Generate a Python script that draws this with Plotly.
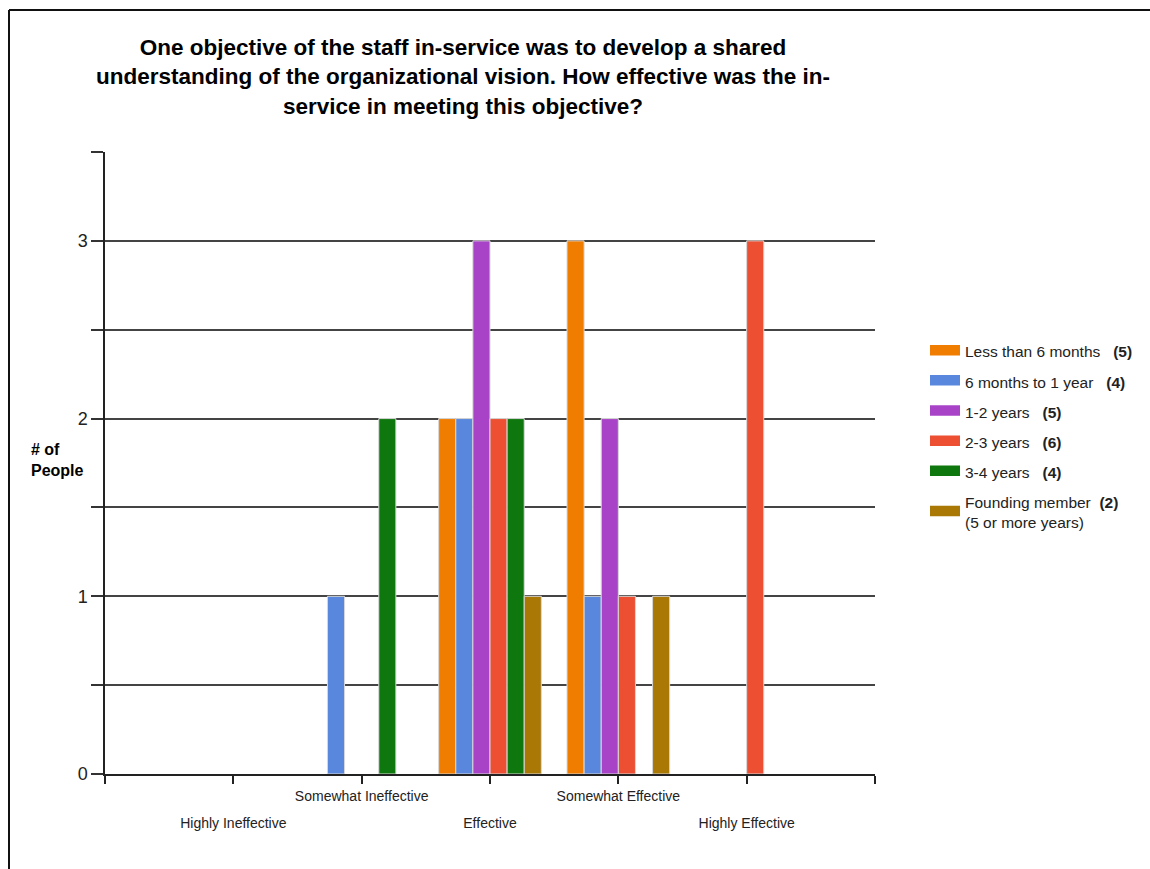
import plotly.graph_objects as go

# ---- data ----
categories = ["Highly Ineffective", "Somewhat Ineffective", "Effective",
              "Somewhat Effective", "Highly Effective"]
cat_pos = [1, 2, 3, 4, 5]
series_names = ["Less than 6 months", "6 months to 1 year", "1-2 years",
                "2-3 years", "3-4 years", "Founding member"]
series_counts = [5, 4, 5, 6, 4, 2]
less_6m = [0, 0, 2, 3, 0]
m6_to_1y = [0, 1, 2, 1, 0]
y1_2 = [0, 0, 3, 2, 0]
y2_3 = [0, 0, 2, 1, 3]
y3_4 = [0, 2, 2, 0, 0]
founding = [0, 0, 1, 1, 0]
series_values = [less_6m, m6_to_1y, y1_2, y2_3, y3_4, founding]
y_ticks = [0, 0.5, 1, 1.5, 2, 2.5, 3, 3.5]
y_ticktext = ["0", "", "1", "", "2", "", "3", ""]

colors = ["#F07D00", "#5887DD", "#A843C8", "#EC4F32", "#0E780E", "#A97805"]
legend_labels = [
    "Less than 6 months   <b>(5)</b>",
    "6 months to 1 year   <b>(4)</b>",
    "1-2 years   <b>(5)</b>",
    "2-3 years   <b>(6)</b>",
    "3-4 years   <b>(4)</b>",
    "Founding member  <b>(2)</b><br>(5 or more years)",
]

FONT = "Liberation Sans, Arial, sans-serif"

fig = go.Figure()
for i, vals in enumerate(series_values):
    fig.add_trace(go.Bar(
        x=cat_pos,
        y=[v if v else None for v in vals],
        name=series_names[i],
        showlegend=False,
        marker=dict(color=colors[i], line=dict(color="#d8d8d8", width=1)),
        hovertemplate=series_names[i] + ": %{y}<extra></extra>",
    ))

# legend-only entries (wide swatches)
for i in range(len(series_names)):
    fig.add_trace(go.Scatter(
        x=[None], y=[None], mode="lines", fill="toself",
        name=legend_labels[i], legendgroup=f"g{i}",
        line=dict(color=colors[i], width=9), fillcolor=colors[i],
        hoverinfo="skip",
    ))

# invisible trace to hold second x axis labels
fig.add_trace(go.Scatter(x=[cat_pos[0]], y=[None], xaxis="x2",
                         showlegend=False, hoverinfo="skip"))

fig.update_layout(
    width=1150, height=869,
    paper_bgcolor="white", plot_bgcolor="white",
    margin=dict(l=105, r=275, t=152, b=95),
    barmode="group", bargap=0.2, bargroupgap=0,
    font=dict(family=FONT, color="#222"),
    title=dict(
        text="One objective of the staff in-service was to develop a shared<br>"
             "understanding of the organizational vision. How effective was the in-<br>"
             "service in meeting this objective?",
        x=463 / 1150, xanchor="center", y=1 - 55 / 869, yanchor="top",
        font=dict(family=FONT, size=22.5, color="#000", weight="bold"),
    ),
    xaxis=dict(
        range=[0, 6], tickmode="array", tickvals=[0, 1, 2, 3, 4, 5, 6],
        ticktext=["", "", categories[1], "", categories[3], "", ""],
        ticks="outside", ticklen=8, tickcolor="#222", tickwidth=1.5,
        showline=True, linecolor="#222", linewidth=1.5,
        showgrid=False, zeroline=False,
        tickfont=dict(family=FONT, size=14, color="#222"),
    ),
    xaxis2=dict(
        overlaying="x", matches="x", side="bottom", anchor="y",
        tickmode="array", tickvals=[1, 3, 5],
        ticktext=[categories[0], categories[2], categories[4]],
        ticks="", showline=False, showgrid=False, zeroline=False,
        ticklabelstandoff=39,
        tickfont=dict(family=FONT, size=14, color="#222"),
    ),
    yaxis=dict(
        range=[0, 3.5], tickmode="array", tickvals=y_ticks, ticktext=y_ticktext,
        ticks="outside", ticklen=12, tickcolor="#333", tickwidth=1.5,
        showline=True, linecolor="#222", linewidth=1.5,
        showgrid=True, gridcolor="#444", gridwidth=1.5, zeroline=False,
        tickfont=dict(family=FONT, size=18, color="#222"),
    ),
    legend=dict(
        x=(925 - 105) / 770, xanchor="left", y=0.706, yanchor="top",
        font=dict(family=FONT, size=15.5, color="#222"),
        tracegroupgap=7, traceorder="grouped",
        bgcolor="rgba(0,0,0,0)",
    ),
    annotations=[dict(
        text="<b># of<br>People</b>", xref="paper", yref="paper",
        x=(29 - 105) / 770, xanchor="left", y=(774 - 460) / 622, yanchor="middle",
        align="left", showarrow=False,
        font=dict(family=FONT, size=16, color="#000"),
    )],
    shapes=[
        dict(type="line", xref="paper", yref="paper",
             x0=(9 - 105) / 770, x1=(9 - 105) / 770,
             y0=-0.2, y1=(774 - 10) / 622,
             line=dict(color="#111", width=2)),
        dict(type="line", xref="paper", yref="paper",
             x0=(9 - 105) / 770, x1=(1150 - 105) / 770,
             y0=(774 - 10) / 622, y1=(774 - 10) / 622,
             line=dict(color="#111", width=2)),
    ],
)

fig.write_html("out.html")
